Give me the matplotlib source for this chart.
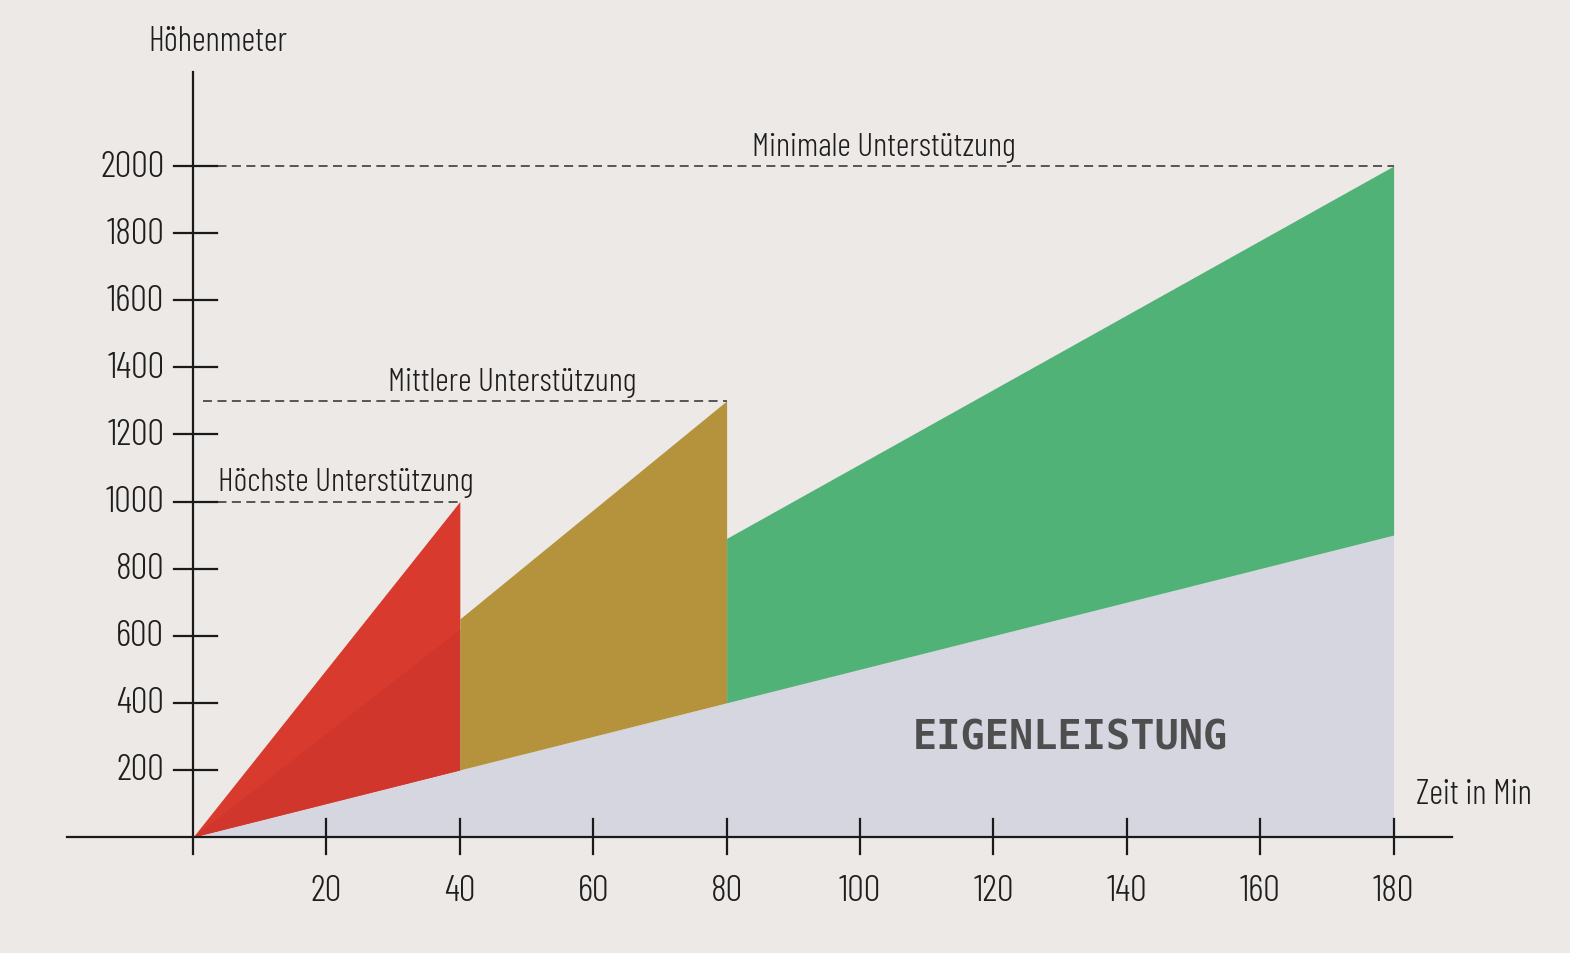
import matplotlib
matplotlib.use("Agg")
import numpy as np
import matplotlib.pyplot as plt
from matplotlib import font_manager

# Daten
zeit_ticks = [20, 40, 60, 80, 100, 120, 140, 160, 180]
hm_ticks = [200, 400, 600, 800, 1000, 1200, 1400, 1600, 1800, 2000]

eigen_x = [0, 40, 80, 180]
eigen_y = [0, 200, 400, 900]

hoechste_x = [0, 40]
hoechste_y = [0, 1000]
hoechste_dunkel_y = [0, 620]

mittlere_x = [40, 80]
mittlere_y = [650, 1300]

minimale_x = [80, 180]
minimale_y = [890, 2000]

labels = ["Höchste Unterstützung", "Mittlere Unterstützung", "Minimale Unterstützung"]
label_mitte = [22.9, 47.8, 103.6]

# Schrift
names = {f.name for f in font_manager.fontManager.ttflist}
font = "Barlow Condensed" if "Barlow Condensed" in names else "DejaVu Sans"
plt.rcParams['font.family'] = [font, 'DejaVu Sans']
plt.rcParams['font.weight'] = 300

bg = '#ece9e7'
txt = '#1e1e1e'
fig = plt.figure(figsize=(15.7, 9.54), dpi=100, facecolor=bg)
ax = fig.add_axes([0, 0, 1, 1])
ax.set_facecolor(bg)
ax.set_xlim(-28.94, 206.45)
ax.set_ylim(-345.7, 2497.8)
ax.axis('off')

def eigen_at(x):
    return np.interp(x, eigen_x, eigen_y)

# Eigenleistung (grau)
ax.fill_between(eigen_x, 0, eigen_y, color='#d6d6e1', lw=0, zorder=1)

# Höchste Unterstützung (rot)
ax.fill_between(hoechste_x, eigen_at(hoechste_x), hoechste_y, color='#d83b2e', lw=0, zorder=2)
ax.fill_between(hoechste_x, eigen_at(hoechste_x), hoechste_dunkel_y, color='#d0362b', lw=0, zorder=2)

# Mittlere Unterstützung (gold)
ax.fill_between(mittlere_x, eigen_at(mittlere_x), mittlere_y, color='#b5933d', lw=0, zorder=2)

# Minimale Unterstützung (grün)
ax.fill_between(minimale_x, eigen_at(minimale_x), minimale_y, color='#50b276', lw=0, zorder=2)

# gestrichelte Linien + Beschriftungen
ends = [(hoechste_x[-1], hoechste_y[-1]), (mittlere_x[-1], mittlere_y[-1]), (minimale_x[-1], minimale_y[-1])]
for (xe, ye), lab, xm in zip(ends, labels, label_mitte):
    ax.plot([1.5, xe], [ye, ye], color='#4a4a4a', lw=1.3, ls=(0, (5, 3)), zorder=3)
    ax.text(xm, ye + 12, lab, ha='center', va='bottom', fontsize=24, color=txt, zorder=4)

# Achsen
ax.plot([-18.9, 188.8], [0, 0], color='#1a1a1a', lw=1.6, zorder=5)
ax.plot([0, 0], [-50, 2280], color='#1a1a1a', lw=1.6, zorder=5)

for t in zeit_ticks:
    ax.plot([t, t], [-52, 55], color='#1a1a1a', lw=1.6, zorder=5)
    ax.text(t, -158, str(t), ha='center', va='center', fontsize=27, color=txt)

for t in hm_ticks:
    ax.plot([-2.8, 3.6], [t, t], color='#1a1a1a', lw=1.6, zorder=5)
    ax.text(-4.3, t, str(t), ha='right', va='center', fontsize=27, color=txt)

ax.text(3.7, 2372, "Höhenmeter", ha='center', va='center', fontsize=24.5, color=txt)
ax.text(192.1, 128, "Zeit in Min", ha='center', va='center', fontsize=24.5, color=txt)

ax.text(131.5, 298, "EIGENLEISTUNG", ha='center', va='center', fontsize=29,
        fontweight='bold', family=['DejaVu Sans Mono'], color='#4e4e4e', zorder=4)

fig.savefig("out.png", dpi=100, facecolor=bg)
